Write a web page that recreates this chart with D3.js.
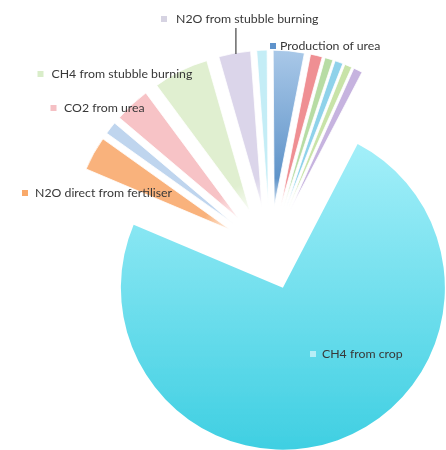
<!DOCTYPE html>
<html>
<head>
<meta charset="utf-8">
<script src="https://cdn.jsdelivr.net/npm/d3@7"></script>
<style>
  html, body { margin: 0; padding: 0; background: #fff; }
  svg { display: block; }
  .lbl { font-family: Lato, "Liberation Sans", sans-serif; font-size: 12.3px; fill: #383838; }
</style>
</head>
<body>
<svg id="chart" width="446" height="450"></svg>
<script>
// slices in clockwise order, starting at the left edge of the big slice
var categories = ["N2O direct from fertiliser", "slice 2", "CO2 from urea", "CH4 from stubble burning",
    "N2O from stubble burning", "slice 6", "Production of urea", "slice 8", "slice 9", "slice 10",
    "slice 11", "slice 12", "CH4 from crop"];
var shares = [3.5, 1.31, 3.69, 5.69, 3.28, 1.06, 3.19, 1.22, 0.83, 0.83, 0.75, 0.92, 73.72];
var colors = ["#f9b27c", "#bfd5ee", "#f7c3c6", "#e0efd0", "#dbd5ea", "#c4edf6", "#8fb5dd",
    "#ef8f93", "#b7dca4", "#8fd2ea", "#c8e3a8", "#c6b3df", "#6fdcec"];
var labelNames = ["N2O from stubble burning", "Production of urea", "CH4 from stubble burning",
    "CO2 from urea", "N2O direct from fertiliser", "CH4 from crop"];
var markerColors = ["#d6d3e2", "#5f93cb", "#d9edc9", "#f5c0c4", "#f9a96b", "#b8eef6"];

var deg = Math.PI / 180;
var start = -67.1 * deg;
var cx = 270, cy = 252;

var svg = d3.select("#chart");
var defs = svg.append("defs");

defs.append("filter").attr("id", "soft")
    .append("feGaussianBlur").attr("stdDeviation", 0.6);

var bigGrad = defs.append("linearGradient").attr("id", "bigGrad")
    .attr("x1", 0).attr("y1", 0).attr("x2", 0).attr("y2", 1);
bigGrad.append("stop").attr("offset", "0%").attr("stop-color", "#a3eff9");
bigGrad.append("stop").attr("offset", "100%").attr("stop-color", "#3fcfe2");

var blueGrad = defs.append("linearGradient").attr("id", "blueGrad")
    .attr("x1", 0).attr("y1", 0).attr("x2", 0).attr("y2", 1);
blueGrad.append("stop").attr("offset", "0%").attr("stop-color", "#a9c8e8");
blueGrad.append("stop").attr("offset", "100%").attr("stop-color", "#4f88c2");

// tips of the small slices fade out toward the centre
var fade = defs.append("radialGradient").attr("id", "fade")
    .attr("gradientUnits", "userSpaceOnUse")
    .attr("cx", cx).attr("cy", cy).attr("r", 200);
fade.append("stop").attr("offset", "0.2").attr("stop-color", "#000");
fade.append("stop").attr("offset", "0.37").attr("stop-color", "#fff");
defs.append("mask").attr("id", "tipMask")
    .append("rect").attr("width", 446).attr("height", 450).attr("fill", "url(#fade)");

var pie = d3.pie().sort(null).value(d => d)
    .startAngle(start).endAngle(start + 2 * Math.PI);
var arcs = pie(shares);
var last = shares.length - 1;

var rSmall = 157;
var arcSmall = d3.arc().innerRadius(0).outerRadius(rSmall);
var arcBig = d3.arc().innerRadius(0).outerRadius(162);

function offset(d, i) {
    var a = (d.startAngle + d.endAngle) / 2;
    var r = i == last ? 38 : 45;
    return [cx + r * Math.sin(a), cy - r * Math.cos(a)];
}

var g = svg.append("g").attr("filter", "url(#soft)");

g.append("path")
    .attr("d", arcBig(arcs[last]))
    .attr("transform", "translate(" + offset(arcs[last], last) + ")")
    .attr("fill", "url(#bigGrad)");

var small = g.append("g").attr("mask", "url(#tipMask)");
small.selectAll("path")
    .data(arcs.slice(0, last))
    .enter()
    .append("path")
    .attr("d", arcSmall)
    .attr("transform", (d, i) => "translate(" + offset(d, i) + ")")
    .attr("fill", (d, i) => categories[i] == "Production of urea" ? "url(#blueGrad)" : colors[i])
    .attr("stroke", "#fff")
    .attr("stroke-width", 0.8);

// label positions: [marker x, text x, y]
var labelPos = {
    "N2O from stubble burning": [164, 176, 19],
    "Production of urea": [273, 280, 46],
    "CH4 from stubble burning": [40.5, 51.5, 74],
    "CO2 from urea": [53.5, 64, 108],
    "N2O direct from fertiliser": [25, 35, 193],
    "CH4 from crop": [313, 322, 354]
};

// leader line for the N2O from stubble burning label
var li = categories.indexOf("N2O from stubble burning");
var la = (arcs[li].startAngle + arcs[li].endAngle) / 2 + 0.5 * deg;
var lo = offset(arcs[li], li);
var lx = lo[0] + rSmall * Math.sin(la);
var ly = lo[1] - rSmall * Math.cos(la);
g.append("line")
    .attr("x1", lx).attr("x2", lx)
    .attr("y1", labelPos["N2O from stubble burning"][2] + 9).attr("y2", ly + 1)
    .attr("stroke", "#444").attr("stroke-width", 1.2);

var labels = g.selectAll("g.label")
    .data(labelNames)
    .enter()
    .append("g")
    .attr("class", "label");

labels.append("rect")
    .attr("x", d => labelPos[d][0] - 3)
    .attr("y", d => labelPos[d][2] - 3)
    .attr("width", 6).attr("height", 6)
    .attr("fill", (d, i) => markerColors[i]);

labels.append("text")
    .attr("class", "lbl")
    .attr("x", d => labelPos[d][1])
    .attr("y", d => labelPos[d][2])
    .attr("dy", "0.36em")
    .text(d => d);
</script>
</body>
</html>
